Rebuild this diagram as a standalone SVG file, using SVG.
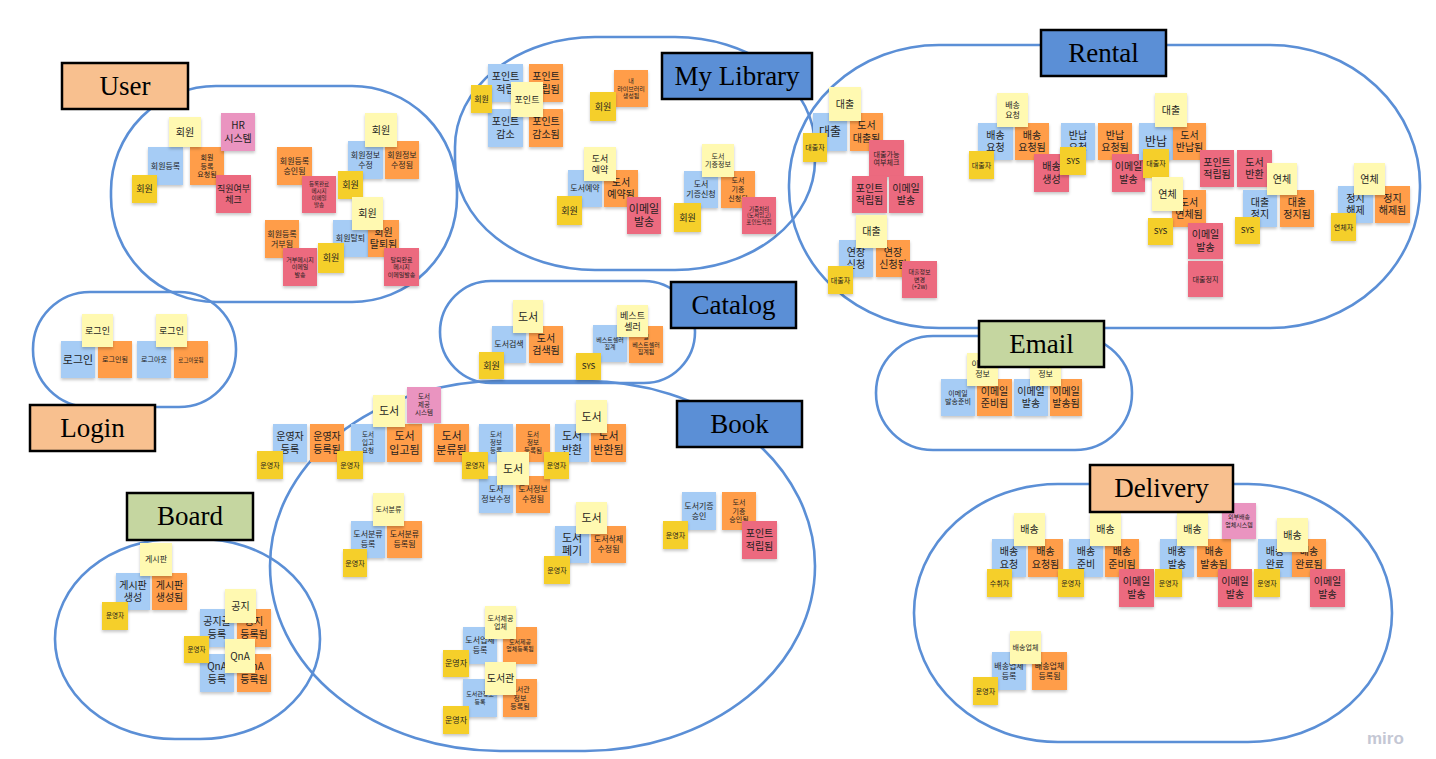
<svg xmlns="http://www.w3.org/2000/svg" width="1436" height="759" viewBox="0 0 1436 759">
<style>
.bg{fill:#ffffff}
.area{fill:none;stroke:#5b8fd6;stroke-width:2.6}
.n{filter:url(#sh)}
.b{fill:#a6ccf5}.o{fill:#ff9d48}.r{fill:#ec6a7f}.y{fill:#f5cf2a}.l{fill:#fff9b1}.p{fill:#ea94c0}
.t{font-family:"Noto Sans CJK KR","Noto Sans",sans-serif;fill:#1e1e1e;text-anchor:middle}
.lb{stroke:#000;stroke-width:2.5}
.lp{fill:#f8c08f}.lbl{fill:#5b8fd6}.lg{fill:#c5d6a0}
.lt{font-family:"Liberation Serif","DejaVu Serif",serif;font-size:27px;fill:#000;text-anchor:middle}
.miro{font-family:"Liberation Sans",sans-serif;font-size:17px;font-weight:bold;fill:#c4c7d4}
</style>
<defs>
<filter id="sh" x="-20%" y="-20%" width="140%" height="150%">
<feDropShadow dx="0" dy="2" stdDeviation="1.4" flood-color="#000" flood-opacity="0.22"/>
</filter>
</defs>
<rect class="bg" x="0" y="0" width="1436" height="759"/>
<g id="areas">
<rect class="area" x="111" y="86" width="346" height="216" rx="105" ry="105"/>
<rect class="area" x="455" y="37" width="360" height="233" rx="140" ry="110"/>
<rect class="area" x="789" y="45" width="631" height="283" rx="150" ry="140"/>
<rect class="area" x="33" y="292" width="203" height="115" rx="57" ry="57"/>
<rect class="area" x="440" y="281" width="255" height="102" rx="51" ry="51"/>
<rect class="area" x="876" y="336" width="256" height="114" rx="57" ry="57"/>
<rect class="area" x="270" y="381" width="545" height="370" rx="230" ry="185"/>
<rect class="area" x="55" y="539" width="265" height="200" rx="120" ry="100"/>
<rect class="area" x="914" y="484" width="478" height="258" rx="144" ry="129"/>
</g>

<g id="user-notes">
<g id="u1"><rect class="n b" x="148" y="147" width="35" height="38"/><text class="t" x="165.5" y="168.9" font-size="8">회원등록</text></g>
<g id="u2"><rect class="n o" x="190" y="147" width="34" height="38"/><text class="t" x="207" y="159.8" font-size="7"><tspan x="207">회원</tspan><tspan x="207" dy="1.25em">등록</tspan><tspan x="207" dy="1.25em">요청됨</tspan></text></g>
<g id="u3"><rect class="n p" x="221" y="113" width="34" height="38"/><text class="t" x="238" y="129.4" font-size="10"><tspan x="238">HR</tspan><tspan x="238" dy="1.25em">시스템</tspan></text></g>
<g id="u4"><rect class="n r" x="216" y="175" width="35" height="38"/><text class="t" x="233.5" y="191.6" font-size="9"><tspan x="233.5">직원여부</tspan><tspan x="233.5" dy="1.25em">체크</tspan></text></g>
<g id="u5"><rect class="n l" x="169" y="117" width="32" height="30"/><text class="t" x="185" y="135.6" font-size="10">회원</text></g>
<g id="u6"><rect class="n y" x="132" y="175" width="25" height="28"/><text class="t" x="144.5" y="192.2" font-size="9">회원</text></g>
<g id="u7"><rect class="n o" x="277" y="147" width="35" height="38"/><text class="t" x="294.5" y="163.9" font-size="8"><tspan x="294.5">회원등록</tspan><tspan x="294.5" dy="1.25em">승인됨</tspan></text></g>
<g id="u8"><rect class="n r" x="302" y="176" width="34" height="37"/><text class="t" x="319" y="186.2" font-size="5.5"><tspan x="319">등록완료</tspan><tspan x="319" dy="1.25em">메시지</tspan><tspan x="319" dy="1.25em">이메일</tspan><tspan x="319" dy="1.25em">발송</tspan></text></g>
<g id="u9"><rect class="n b" x="348" y="141" width="35" height="38"/><text class="t" x="365.5" y="157.9" font-size="8"><tspan x="365.5">회원정보</tspan><tspan x="365.5" dy="1.25em">수정</tspan></text></g>
<g id="u10"><rect class="n o" x="385" y="141" width="34" height="38"/><text class="t" x="402" y="157.9" font-size="8"><tspan x="402">회원정보</tspan><tspan x="402" dy="1.25em">수정됨</tspan></text></g>
<g id="u11"><rect class="n y" x="338" y="171" width="25" height="28"/><text class="t" x="350.5" y="188.2" font-size="9">회원</text></g>
<g id="u12"><rect class="n l" x="365" y="113" width="32" height="34"/><text class="t" x="381" y="133.6" font-size="10">회원</text></g>
<g id="u13"><rect class="n o" x="265" y="220" width="34" height="38"/><text class="t" x="282" y="236.9" font-size="8"><tspan x="282">회원등록</tspan><tspan x="282" dy="1.25em">거부됨</tspan></text></g>
<g id="u14"><rect class="n r" x="283" y="248" width="34" height="38"/><text class="t" x="300" y="261.7" font-size="6"><tspan x="300">거부메시지</tspan><tspan x="300" dy="1.25em">이메일</tspan><tspan x="300" dy="1.25em">발송</tspan></text></g>
<g id="u15"><rect class="n b" x="333" y="220" width="35" height="37"/><text class="t" x="350.5" y="241.4" font-size="8">회원탈퇴</text></g>
<g id="u16"><rect class="n o" x="368" y="220" width="31" height="37"/><text class="t" x="383.5" y="235.9" font-size="10"><tspan x="383.5">회원</tspan><tspan x="383.5" dy="1.25em">탈퇴됨</tspan></text></g>
<g id="u17"><rect class="n l" x="352" y="197" width="31" height="33"/><text class="t" x="367.5" y="217.1" font-size="10">회원</text></g>
<g id="u18"><rect class="n y" x="318" y="243" width="26" height="30"/><text class="t" x="331" y="261.2" font-size="9">회원</text></g>
<g id="u19"><rect class="n r" x="384" y="248" width="35" height="38"/><text class="t" x="401.5" y="261.7" font-size="6"><tspan x="401.5">탈퇴완료</tspan><tspan x="401.5" dy="1.25em">메시지</tspan><tspan x="401.5" dy="1.25em">이메일발송</tspan></text></g>
</g>

<g id="mylibrary-notes">
<g id="m1"><rect class="n b" x="488" y="64" width="35" height="38"/><text class="t" x="505.5" y="80.4" font-size="10"><tspan x="505.5">포인트</tspan><tspan x="505.5" dy="1.25em">적립</tspan></text></g>
<g id="m2"><rect class="n o" x="529" y="64" width="34" height="38"/><text class="t" x="546" y="80.4" font-size="10"><tspan x="546">포인트</tspan><tspan x="546" dy="1.25em">적립됨</tspan></text></g>
<g id="m3"><rect class="n b" x="488" y="109" width="35" height="38"/><text class="t" x="505.5" y="125.4" font-size="10"><tspan x="505.5">포인트</tspan><tspan x="505.5" dy="1.25em">감소</tspan></text></g>
<g id="m4"><rect class="n o" x="529" y="109" width="34" height="38"/><text class="t" x="546" y="125.4" font-size="10"><tspan x="546">포인트</tspan><tspan x="546" dy="1.25em">감소됨</tspan></text></g>
<g id="m5"><rect class="n y" x="471" y="85" width="21" height="28"/><text class="t" x="481.5" y="101.9" font-size="8">회원</text></g>
<g id="m6"><rect class="n l" x="511" y="82" width="32" height="35"/><text class="t" x="527" y="102.7" font-size="9">포인트</text></g>
<g id="m7"><rect class="n o" x="614" y="70" width="34" height="37"/><text class="t" x="631" y="83.2" font-size="6"><tspan x="631">내</tspan><tspan x="631" dy="1.25em">라이브러리</tspan><tspan x="631" dy="1.25em">생성됨</tspan></text></g>
<g id="m8"><rect class="n y" x="590" y="92" width="26" height="29"/><text class="t" x="603" y="109.7" font-size="9">회원</text></g>
<g id="m9"><rect class="n b" x="568" y="170" width="34" height="37"/><text class="t" x="585" y="191.4" font-size="8">도서예약</text></g>
<g id="m10"><rect class="n o" x="604" y="170" width="34" height="37"/><text class="t" x="621" y="185.9" font-size="10"><tspan x="621">도서</tspan><tspan x="621" dy="1.25em">예약됨</tspan></text></g>
<g id="m11"><rect class="n l" x="584" y="147" width="32" height="34"/><text class="t" x="600" y="161.6" font-size="9"><tspan x="600">도서</tspan><tspan x="600" dy="1.25em">예약</tspan></text></g>
<g id="m12"><rect class="n y" x="557" y="196" width="25" height="29"/><text class="t" x="569.5" y="213.7" font-size="9">회원</text></g>
<g id="m13"><rect class="n r" x="627" y="197" width="34" height="37"/><text class="t" x="644" y="212.6" font-size="11"><tspan x="644">이메일</tspan><tspan x="644" dy="1.25em">발송</tspan></text></g>
<g id="m14"><rect class="n b" x="684" y="171" width="34" height="37"/><text class="t" x="701" y="187.4" font-size="8"><tspan x="701">도서</tspan><tspan x="701" dy="1.25em">기증신청</tspan></text></g>
<g id="m15"><rect class="n o" x="721" y="171" width="34" height="37"/><text class="t" x="738" y="183.3" font-size="7"><tspan x="738">도서</tspan><tspan x="738" dy="1.25em">기증</tspan><tspan x="738" dy="1.25em">신청됨</tspan></text></g>
<g id="m16"><rect class="n l" x="702" y="144" width="32" height="33"/><text class="t" x="718" y="158.6" font-size="7"><tspan x="718">도서</tspan><tspan x="718" dy="1.25em">기증정보</tspan></text></g>
<g id="m17"><rect class="n y" x="674" y="203" width="27" height="29"/><text class="t" x="687.5" y="220.7" font-size="9">회원</text></g>
<g id="m18"><rect class="n r" x="742" y="197" width="34" height="37"/><text class="t" x="759" y="210.6" font-size="5.5"><tspan x="759">기증처리</tspan><tspan x="759" dy="1.25em">(도서입고)</tspan><tspan x="759" dy="1.25em">포인트적립</tspan></text></g>
</g>

<g id="rental-notes">
<g id="r1"><rect class="n b" x="813" y="113" width="34" height="38"/><text class="t" x="830" y="136.3" font-size="12">대출</text></g>
<g id="r2"><rect class="n o" x="850" y="113" width="33" height="38"/><text class="t" x="866.5" y="129.4" font-size="10"><tspan x="866.5">도서</tspan><tspan x="866.5" dy="1.25em">대출됨</tspan></text></g>
<g id="r3"><rect class="n l" x="829" y="87" width="32" height="34"/><text class="t" x="845" y="107.6" font-size="10">대출</text></g>
<g id="r4"><rect class="n y" x="803" y="133" width="24" height="29"/><text class="t" x="815" y="150" font-size="7">대출자</text></g>
<g id="r5"><rect class="n r" x="869" y="140" width="35" height="37"/><text class="t" x="886.5" y="156.6" font-size="7"><tspan x="886.5">대출가능</tspan><tspan x="886.5" dy="1.25em">여부체크</tspan></text></g>
<g id="r6"><rect class="n r" x="852" y="176" width="35" height="37"/><text class="t" x="869.5" y="191.9" font-size="10"><tspan x="869.5">포인트</tspan><tspan x="869.5" dy="1.25em">적립됨</tspan></text></g>
<g id="r7"><rect class="n r" x="889" y="176" width="34" height="37"/><text class="t" x="906" y="191.9" font-size="10"><tspan x="906">이메일</tspan><tspan x="906" dy="1.25em">발송</tspan></text></g>
<g id="r8"><rect class="n b" x="839" y="240" width="34" height="37"/><text class="t" x="856" y="255.9" font-size="10"><tspan x="856">연장</tspan><tspan x="856" dy="1.25em">신청</tspan></text></g>
<g id="r9"><rect class="n o" x="876" y="240" width="34" height="37"/><text class="t" x="893" y="255.9" font-size="10"><tspan x="893">연장</tspan><tspan x="893" dy="1.25em">신청됨</tspan></text></g>
<g id="r10"><rect class="n l" x="856" y="215" width="31" height="33"/><text class="t" x="871.5" y="235.1" font-size="10">대출</text></g>
<g id="r11"><rect class="n y" x="828" y="266" width="25" height="28"/><text class="t" x="840.5" y="282.5" font-size="7">대출자</text></g>
<g id="r12"><rect class="n r" x="902" y="261" width="35" height="37"/><text class="t" x="919.5" y="274.2" font-size="6"><tspan x="919.5">대출정보</tspan><tspan x="919.5" dy="1.25em">변경</tspan><tspan x="919.5" dy="1.25em">(+2w)</tspan></text></g>
<g id="r13"><rect class="n b" x="978" y="123" width="35" height="37"/><text class="t" x="995.5" y="138.9" font-size="10"><tspan x="995.5">배송</tspan><tspan x="995.5" dy="1.25em">요청</tspan></text></g>
<g id="r14"><rect class="n o" x="1015" y="123" width="34" height="37"/><text class="t" x="1032" y="138.9" font-size="10"><tspan x="1032">배송</tspan><tspan x="1032" dy="1.25em">요청됨</tspan></text></g>
<g id="r15"><rect class="n l" x="997" y="93" width="31" height="34"/><text class="t" x="1012.5" y="107.9" font-size="8"><tspan x="1012.5">배송</tspan><tspan x="1012.5" dy="1.25em">요청</tspan></text></g>
<g id="r16"><rect class="n y" x="969" y="151" width="25" height="28"/><text class="t" x="981.5" y="167.5" font-size="7">대출자</text></g>
<g id="r17"><rect class="n r" x="1034" y="154" width="35" height="38"/><text class="t" x="1051.5" y="170.4" font-size="10"><tspan x="1051.5">배송</tspan><tspan x="1051.5" dy="1.25em">생성</tspan></text></g>
<g id="r18"><rect class="n b" x="1061" y="123" width="34" height="37"/><text class="t" x="1078" y="138.9" font-size="10"><tspan x="1078">반납</tspan><tspan x="1078" dy="1.25em">요청</tspan></text></g>
<g id="r19"><rect class="n y" x="1060" y="147" width="26" height="28"/><text class="t" x="1073" y="163.9" font-size="8">SYS</text></g>
<g id="r20"><rect class="n o" x="1098" y="123" width="34" height="37"/><text class="t" x="1115" y="138.9" font-size="10"><tspan x="1115">반납</tspan><tspan x="1115" dy="1.25em">요청됨</tspan></text></g>
<g id="r21"><rect class="n r" x="1112" y="154" width="33" height="38"/><text class="t" x="1128.5" y="170.4" font-size="10"><tspan x="1128.5">이메일</tspan><tspan x="1128.5" dy="1.25em">발송</tspan></text></g>
<g id="r22"><rect class="n b" x="1139" y="123" width="34" height="37"/><text class="t" x="1156" y="145.8" font-size="12">반납</text></g>
<g id="r23"><rect class="n o" x="1173" y="123" width="33" height="37"/><text class="t" x="1189.5" y="138.9" font-size="10"><tspan x="1189.5">도서</tspan><tspan x="1189.5" dy="1.25em">반납됨</tspan></text></g>
<g id="r24"><rect class="n l" x="1155" y="93" width="32" height="34"/><text class="t" x="1171" y="113.6" font-size="10">대출</text></g>
<g id="r25"><rect class="n y" x="1143" y="149" width="26" height="29"/><text class="t" x="1156" y="166" font-size="7">대출자</text></g>
<g id="r26"><rect class="n r" x="1200" y="150" width="34" height="37"/><text class="t" x="1217" y="165.9" font-size="10"><tspan x="1217">포인트</tspan><tspan x="1217" dy="1.25em">적립됨</tspan></text></g>
<g id="r27"><rect class="n r" x="1237" y="150" width="35" height="37"/><text class="t" x="1254.5" y="165.9" font-size="10"><tspan x="1254.5">도서</tspan><tspan x="1254.5" dy="1.25em">반환</tspan></text></g>
<g id="r28"><rect class="n o" x="1172" y="190" width="34" height="37"/><text class="t" x="1189" y="205.9" font-size="10"><tspan x="1189">도서</tspan><tspan x="1189" dy="1.25em">연체됨</tspan></text></g>
<g id="r29"><rect class="n l" x="1152" y="177" width="31" height="34"/><text class="t" x="1167.5" y="197.6" font-size="10">연체</text></g>
<g id="r30"><rect class="n y" x="1148" y="218" width="25" height="27"/><text class="t" x="1160.5" y="234.4" font-size="8">SYS</text></g>
<g id="r31"><rect class="n r" x="1188" y="223" width="35" height="36"/><text class="t" x="1205.5" y="238.4" font-size="10"><tspan x="1205.5">이메일</tspan><tspan x="1205.5" dy="1.25em">발송</tspan></text></g>
<g id="r32"><rect class="n r" x="1188" y="261" width="35" height="36"/><text class="t" x="1205.5" y="281.5" font-size="7">대출정지</text></g>
<g id="r33"><rect class="n b" x="1243" y="190" width="34" height="37"/><text class="t" x="1260" y="205.9" font-size="10"><tspan x="1260">대출</tspan><tspan x="1260" dy="1.25em">정지</tspan></text></g>
<g id="r34"><rect class="n o" x="1280" y="190" width="34" height="37"/><text class="t" x="1297" y="205.9" font-size="10"><tspan x="1297">대출</tspan><tspan x="1297" dy="1.25em">정지됨</tspan></text></g>
<g id="r35"><rect class="n l" x="1267" y="163" width="30" height="32"/><text class="t" x="1282" y="182.6" font-size="10">연체</text></g>
<g id="r36"><rect class="n y" x="1235" y="217" width="25" height="27"/><text class="t" x="1247.5" y="233.4" font-size="8">SYS</text></g>
<g id="r37"><rect class="n b" x="1338" y="186" width="35" height="37"/><text class="t" x="1355.5" y="201.9" font-size="10"><tspan x="1355.5">정지</tspan><tspan x="1355.5" dy="1.25em">해제</tspan></text></g>
<g id="r38"><rect class="n o" x="1375" y="186" width="35" height="37"/><text class="t" x="1392.5" y="201.9" font-size="10"><tspan x="1392.5">정지</tspan><tspan x="1392.5" dy="1.25em">해제됨</tspan></text></g>
<g id="r39"><rect class="n l" x="1354" y="163" width="31" height="32"/><text class="t" x="1369.5" y="182.6" font-size="10">연체</text></g>
<g id="r40"><rect class="n y" x="1331" y="213" width="25" height="28"/><text class="t" x="1343.5" y="229.5" font-size="7">연체자</text></g>
</g>

<g id="login-notes">
<g id="lg1"><rect class="n b" x="61" y="341" width="34" height="37"/><text class="t" x="78" y="363.5" font-size="11">로그인</text></g>
<g id="lg2"><rect class="n o" x="98" y="341" width="34" height="37"/><text class="t" x="115" y="362" font-size="7">로그인됨</text></g>
<g id="lg3"><rect class="n l" x="82" y="314" width="31" height="33"/><text class="t" x="97.5" y="333.7" font-size="9">로그인</text></g>
<g id="lg4"><rect class="n b" x="137" y="341" width="34" height="37"/><text class="t" x="154" y="362" font-size="7">로그아웃</text></g>
<g id="lg5"><rect class="n o" x="174" y="341" width="34" height="37"/><text class="t" x="191" y="361.5" font-size="5.5">로그아웃됨</text></g>
<g id="lg6"><rect class="n l" x="156" y="314" width="31" height="33"/><text class="t" x="171.5" y="333.7" font-size="9">로그인</text></g>
</g>

<g id="catalog-notes">
<g id="c1"><rect class="n b" x="492" y="326" width="34" height="37"/><text class="t" x="509" y="347.4" font-size="8">도서검색</text></g>
<g id="c2"><rect class="n o" x="529" y="326" width="34" height="37"/><text class="t" x="546" y="341.9" font-size="10"><tspan x="546">도서</tspan><tspan x="546" dy="1.25em">검색됨</tspan></text></g>
<g id="c3"><rect class="n l" x="513" y="300" width="30" height="33"/><text class="t" x="528" y="320.5" font-size="11">도서</text></g>
<g id="c4"><rect class="n y" x="479" y="352" width="25" height="27"/><text class="t" x="491.5" y="368.7" font-size="9">회원</text></g>
<g id="c5"><rect class="n b" x="593" y="325" width="34" height="37"/><text class="t" x="610" y="341.9" font-size="6"><tspan x="610">베스트셀러</tspan><tspan x="610" dy="1.25em">집계</tspan></text></g>
<g id="c6"><rect class="n o" x="629" y="326" width="34" height="37"/><text class="t" x="646" y="339.2" font-size="6"><tspan x="646">월</tspan><tspan x="646" dy="1.25em">베스트셀러</tspan><tspan x="646" dy="1.25em">집계됨</tspan></text></g>
<g id="c7"><rect class="n l" x="617" y="305" width="31" height="32"/><text class="t" x="632.5" y="318.6" font-size="9"><tspan x="632.5">베스트</tspan><tspan x="632.5" dy="1.25em">셀러</tspan></text></g>
<g id="c8"><rect class="n y" x="576" y="353" width="25" height="27"/><text class="t" x="588.5" y="369.4" font-size="8">SYS</text></g>
</g>

<g id="email-notes">
<g id="e1"><rect class="n b" x="941" y="379" width="34" height="37"/><text class="t" x="958" y="395.6" font-size="7"><tspan x="958">이메일</tspan><tspan x="958" dy="1.25em">발송준비</tspan></text></g>
<g id="e2"><rect class="n o" x="977" y="379" width="35" height="37"/><text class="t" x="994.5" y="394.9" font-size="10"><tspan x="994.5">이메일</tspan><tspan x="994.5" dy="1.25em">준비됨</tspan></text></g>
<g id="e3"><rect class="n l" x="967" y="353" width="31" height="33"/><text class="t" x="982.5" y="367.4" font-size="8"><tspan x="982.5">이메일</tspan><tspan x="982.5" dy="1.25em">정보</tspan></text></g>
<g id="e4"><rect class="n b" x="1014" y="379" width="34" height="37"/><text class="t" x="1031" y="394.9" font-size="10"><tspan x="1031">이메일</tspan><tspan x="1031" dy="1.25em">발송</tspan></text></g>
<g id="e5"><rect class="n o" x="1050" y="379" width="32" height="37"/><text class="t" x="1066" y="394.9" font-size="10"><tspan x="1066">이메일</tspan><tspan x="1066" dy="1.25em">발송됨</tspan></text></g>
<g id="e6"><rect class="n l" x="1030" y="353" width="31" height="33"/><text class="t" x="1045.5" y="367.4" font-size="8"><tspan x="1045.5">이메일</tspan><tspan x="1045.5" dy="1.25em">정보</tspan></text></g>
</g>

<g id="book-notes">
<g id="k1"><rect class="n b" x="273" y="424" width="34" height="38"/><text class="t" x="290" y="440.4" font-size="10"><tspan x="290">운영자</tspan><tspan x="290" dy="1.25em">등록</tspan></text></g>
<g id="k2"><rect class="n o" x="310" y="424" width="34" height="38"/><text class="t" x="327" y="440.4" font-size="10"><tspan x="327">운영자</tspan><tspan x="327" dy="1.25em">등록됨</tspan></text></g>
<g id="k3"><rect class="n y" x="257" y="451" width="26" height="28"/><text class="t" x="270" y="467.5" font-size="7">운영자</text></g>
<g id="k4"><rect class="n b" x="351" y="424" width="34" height="38"/><text class="t" x="368" y="437.2" font-size="6.5"><tspan x="368">도서</tspan><tspan x="368" dy="1.25em">입고</tspan><tspan x="368" dy="1.25em">요청</tspan></text></g>
<g id="k5"><rect class="n o" x="387" y="424" width="35" height="38"/><text class="t" x="404.5" y="440.1" font-size="11"><tspan x="404.5">도서</tspan><tspan x="404.5" dy="1.25em">입고됨</tspan></text></g>
<g id="k6"><rect class="n l" x="373" y="395" width="32" height="32"/><text class="t" x="389" y="415" font-size="11">도서</text></g>
<g id="k7"><rect class="n p" x="407" y="387" width="34" height="36"/><text class="t" x="424" y="399.2" font-size="6.5"><tspan x="424">도서</tspan><tspan x="424" dy="1.25em">제공</tspan><tspan x="424" dy="1.25em">시스템</tspan></text></g>
<g id="k8"><rect class="n y" x="337" y="451" width="26" height="28"/><text class="t" x="350" y="467.5" font-size="7">운영자</text></g>
<g id="k9"><rect class="n o" x="434" y="424" width="35" height="38"/><text class="t" x="451.5" y="440.1" font-size="11"><tspan x="451.5">도서</tspan><tspan x="451.5" dy="1.25em">분류됨</tspan></text></g>
<g id="k10"><rect class="n b" x="479" y="424" width="34" height="38"/><text class="t" x="496" y="437.2" font-size="6.5"><tspan x="496">도서</tspan><tspan x="496" dy="1.25em">정보</tspan><tspan x="496" dy="1.25em">등록</tspan></text></g>
<g id="k11"><rect class="n o" x="516" y="424" width="34" height="38"/><text class="t" x="533" y="437.2" font-size="6.5"><tspan x="533">도서</tspan><tspan x="533" dy="1.25em">정보</tspan><tspan x="533" dy="1.25em">등록됨</tspan></text></g>
<g id="k12"><rect class="n b" x="479" y="476" width="34" height="37"/><text class="t" x="496" y="492.4" font-size="8"><tspan x="496">도서</tspan><tspan x="496" dy="1.25em">정보수정</tspan></text></g>
<g id="k13"><rect class="n o" x="516" y="476" width="34" height="37"/><text class="t" x="533" y="492.4" font-size="8"><tspan x="533">도서정보</tspan><tspan x="533" dy="1.25em">수정됨</tspan></text></g>
<g id="k14"><rect class="n y" x="462" y="452" width="26" height="27"/><text class="t" x="475" y="468" font-size="7">운영자</text></g>
<g id="k15"><rect class="n l" x="497" y="452" width="32" height="33"/><text class="t" x="513" y="472.5" font-size="11">도서</text></g>
<g id="k16"><rect class="n b" x="555" y="424" width="34" height="38"/><text class="t" x="572" y="440.1" font-size="11"><tspan x="572">도서</tspan><tspan x="572" dy="1.25em">반환</tspan></text></g>
<g id="k17"><rect class="n o" x="591" y="424" width="35" height="38"/><text class="t" x="608.5" y="440.1" font-size="11"><tspan x="608.5">도서</tspan><tspan x="608.5" dy="1.25em">반환됨</tspan></text></g>
<g id="k18"><rect class="n l" x="576" y="400" width="31" height="33"/><text class="t" x="591.5" y="420.5" font-size="11">도서</text></g>
<g id="k19"><rect class="n y" x="544" y="452" width="25" height="27"/><text class="t" x="556.5" y="468" font-size="7">운영자</text></g>
<g id="k20"><rect class="n b" x="351" y="521" width="34" height="37"/><text class="t" x="368" y="537.4" font-size="8"><tspan x="368">도서분류</tspan><tspan x="368" dy="1.25em">등록</tspan></text></g>
<g id="k21"><rect class="n o" x="387" y="521" width="35" height="37"/><text class="t" x="404.5" y="537.4" font-size="8"><tspan x="404.5">도서분류</tspan><tspan x="404.5" dy="1.25em">등록됨</tspan></text></g>
<g id="k22"><rect class="n l" x="373" y="493" width="31" height="33"/><text class="t" x="388.5" y="512" font-size="7">도서분류</text></g>
<g id="k23"><rect class="n y" x="343" y="549" width="24" height="28"/><text class="t" x="355" y="565.5" font-size="7">운영자</text></g>
<g id="k24"><rect class="n b" x="555" y="526" width="34" height="37"/><text class="t" x="572" y="541.6" font-size="11"><tspan x="572">도서</tspan><tspan x="572" dy="1.25em">폐기</tspan></text></g>
<g id="k25"><rect class="n o" x="591" y="526" width="35" height="37"/><text class="t" x="608.5" y="542.4" font-size="8"><tspan x="608.5">도서삭제</tspan><tspan x="608.5" dy="1.25em">수정됨</tspan></text></g>
<g id="k26"><rect class="n l" x="576" y="502" width="31" height="32"/><text class="t" x="591.5" y="522" font-size="11">도서</text></g>
<g id="k27"><rect class="n y" x="544" y="556" width="26" height="28"/><text class="t" x="557" y="572.5" font-size="7">운영자</text></g>
<g id="k28"><rect class="n b" x="682" y="492" width="34" height="38"/><text class="t" x="699" y="508.9" font-size="8"><tspan x="699">도서기증</tspan><tspan x="699" dy="1.25em">승인</tspan></text></g>
<g id="k29"><rect class="n o" x="722" y="492" width="34" height="38"/><text class="t" x="739" y="504.8" font-size="7"><tspan x="739">도서</tspan><tspan x="739" dy="1.25em">기증</tspan><tspan x="739" dy="1.25em">승인됨</tspan></text></g>
<g id="k30"><rect class="n y" x="663" y="521" width="25" height="28"/><text class="t" x="675.5" y="537.5" font-size="7">운영자</text></g>
<g id="k31"><rect class="n r" x="742" y="521" width="35" height="38"/><text class="t" x="759.5" y="537.4" font-size="10"><tspan x="759.5">포인트</tspan><tspan x="759.5" dy="1.25em">적립됨</tspan></text></g>
<g id="k32"><rect class="n b" x="463" y="627" width="34" height="37"/><text class="t" x="480" y="643.4" font-size="8"><tspan x="480">도서업체</tspan><tspan x="480" dy="1.25em">등록</tspan></text></g>
<g id="k33"><rect class="n o" x="503" y="627" width="34" height="37"/><text class="t" x="520" y="643.9" font-size="6"><tspan x="520">도서제공</tspan><tspan x="520" dy="1.25em">업체등록됨</tspan></text></g>
<g id="k34"><rect class="n l" x="485" y="606" width="31" height="33"/><text class="t" x="500.5" y="620.6" font-size="7"><tspan x="500.5">도서제공</tspan><tspan x="500.5" dy="1.25em">업체</tspan></text></g>
<g id="k35"><rect class="n y" x="443" y="650" width="26" height="27"/><text class="t" x="456" y="666.4" font-size="8">운영자</text></g>
<g id="k36"><rect class="n b" x="463" y="679" width="34" height="38"/><text class="t" x="480" y="696.4" font-size="6"><tspan x="480">도서관정보</tspan><tspan x="480" dy="1.25em">등록</tspan></text></g>
<g id="k37"><rect class="n o" x="503" y="679" width="34" height="38"/><text class="t" x="520" y="691.8" font-size="7"><tspan x="520">도서관</tspan><tspan x="520" dy="1.25em">정보</tspan><tspan x="520" dy="1.25em">등록됨</tspan></text></g>
<g id="k38"><rect class="n l" x="485" y="662" width="31" height="33"/><text class="t" x="500.5" y="682.1" font-size="10">도서관</text></g>
<g id="k39"><rect class="n y" x="443" y="706" width="26" height="28"/><text class="t" x="456" y="722.9" font-size="8">운영자</text></g>
</g>

<g id="board-notes">
<g id="bd1"><rect class="n b" x="116" y="573" width="34" height="37"/><text class="t" x="133" y="588.9" font-size="10"><tspan x="133">게시판</tspan><tspan x="133" dy="1.25em">생성</tspan></text></g>
<g id="bd2"><rect class="n o" x="152" y="573" width="35" height="37"/><text class="t" x="169.5" y="588.9" font-size="10"><tspan x="169.5">게시판</tspan><tspan x="169.5" dy="1.25em">생성됨</tspan></text></g>
<g id="bd3"><rect class="n l" x="140" y="543" width="32" height="33"/><text class="t" x="156" y="562.4" font-size="8">게시판</text></g>
<g id="bd4"><rect class="n y" x="102" y="602" width="26" height="28"/><text class="t" x="115" y="618.3" font-size="6.5">운영자</text></g>
<g id="bd5"><rect class="n b" x="200" y="609" width="34" height="38"/><text class="t" x="217" y="625.4" font-size="10"><tspan x="217">공지글</tspan><tspan x="217" dy="1.25em">등록</tspan></text></g>
<g id="bd6"><rect class="n o" x="237" y="609" width="34" height="38"/><text class="t" x="254" y="625.4" font-size="10"><tspan x="254">공지</tspan><tspan x="254" dy="1.25em">등록됨</tspan></text></g>
<g id="bd7"><rect class="n b" x="200" y="654" width="34" height="38"/><text class="t" x="217" y="670.4" font-size="10"><tspan x="217">QnA</tspan><tspan x="217" dy="1.25em">등록</tspan></text></g>
<g id="bd8"><rect class="n o" x="237" y="654" width="34" height="38"/><text class="t" x="254" y="670.4" font-size="10"><tspan x="254">QnA</tspan><tspan x="254" dy="1.25em">등록됨</tspan></text></g>
<g id="bd9"><rect class="n l" x="225" y="589" width="31" height="34"/><text class="t" x="240.5" y="609.6" font-size="10">공지</text></g>
<g id="bd10"><rect class="n y" x="184" y="636" width="25" height="27"/><text class="t" x="196.5" y="651.8" font-size="6.5">운영자</text></g>
<g id="bd11"><rect class="n l" x="225" y="639" width="30" height="34"/><text class="t" x="240" y="659.6" font-size="10">QnA</text></g>
</g>

<g id="delivery-notes">
<g id="d1"><rect class="n b" x="992" y="539" width="34" height="38"/><text class="t" x="1009" y="555.4" font-size="10"><tspan x="1009">배송</tspan><tspan x="1009" dy="1.25em">요청</tspan></text></g>
<g id="d2"><rect class="n o" x="1028" y="539" width="35" height="38"/><text class="t" x="1045.5" y="555.4" font-size="10"><tspan x="1045.5">배송</tspan><tspan x="1045.5" dy="1.25em">요청됨</tspan></text></g>
<g id="d3"><rect class="n l" x="1014" y="513" width="31" height="33"/><text class="t" x="1029.5" y="533.1" font-size="10">배송</text></g>
<g id="d4"><rect class="n y" x="987" y="569" width="25" height="28"/><text class="t" x="999.5" y="585.5" font-size="7">수취자</text></g>
<g id="d5"><rect class="n b" x="1069" y="539" width="34" height="38"/><text class="t" x="1086" y="555.4" font-size="10"><tspan x="1086">배송</tspan><tspan x="1086" dy="1.25em">준비</tspan></text></g>
<g id="d6"><rect class="n o" x="1105" y="539" width="34" height="38"/><text class="t" x="1122" y="555.4" font-size="10"><tspan x="1122">배송</tspan><tspan x="1122" dy="1.25em">준비됨</tspan></text></g>
<g id="d7"><rect class="n l" x="1090" y="513" width="31" height="33"/><text class="t" x="1105.5" y="533.1" font-size="10">배송</text></g>
<g id="d8"><rect class="n y" x="1058" y="569" width="26" height="28"/><text class="t" x="1071" y="585.5" font-size="7">운영자</text></g>
<g id="d9"><rect class="n r" x="1119" y="569" width="35" height="38"/><text class="t" x="1136.5" y="585.4" font-size="10"><tspan x="1136.5">이메일</tspan><tspan x="1136.5" dy="1.25em">발송</tspan></text></g>
<g id="d10"><rect class="n b" x="1160" y="539" width="34" height="38"/><text class="t" x="1177" y="555.4" font-size="10"><tspan x="1177">배송</tspan><tspan x="1177" dy="1.25em">발송</tspan></text></g>
<g id="d11"><rect class="n o" x="1197" y="539" width="34" height="38"/><text class="t" x="1214" y="555.4" font-size="10"><tspan x="1214">배송</tspan><tspan x="1214" dy="1.25em">발송됨</tspan></text></g>
<g id="d12"><rect class="n l" x="1177" y="513" width="31" height="33"/><text class="t" x="1192.5" y="533.1" font-size="10">배송</text></g>
<g id="d13"><rect class="n p" x="1222" y="503" width="34" height="36"/><text class="t" x="1239" y="519.4" font-size="6"><tspan x="1239">외부배송</tspan><tspan x="1239" dy="1.25em">업체시스템</tspan></text></g>
<g id="d14"><rect class="n y" x="1155" y="569" width="27" height="28"/><text class="t" x="1168.5" y="585.5" font-size="7">운영자</text></g>
<g id="d15"><rect class="n r" x="1218" y="569" width="34" height="38"/><text class="t" x="1235" y="585.4" font-size="10"><tspan x="1235">이메일</tspan><tspan x="1235" dy="1.25em">발송</tspan></text></g>
<g id="d16"><rect class="n b" x="1258" y="539" width="34" height="38"/><text class="t" x="1275" y="555.4" font-size="10"><tspan x="1275">배송</tspan><tspan x="1275" dy="1.25em">완료</tspan></text></g>
<g id="d17"><rect class="n o" x="1292" y="539" width="34" height="38"/><text class="t" x="1309" y="555.4" font-size="10"><tspan x="1309">배송</tspan><tspan x="1309" dy="1.25em">완료됨</tspan></text></g>
<g id="d18"><rect class="n l" x="1277" y="518" width="31" height="34"/><text class="t" x="1292.5" y="538.6" font-size="10">배송</text></g>
<g id="d19"><rect class="n y" x="1254" y="569" width="26" height="28"/><text class="t" x="1267" y="585.5" font-size="7">운영자</text></g>
<g id="d20"><rect class="n r" x="1310" y="569" width="35" height="38"/><text class="t" x="1327.5" y="585.4" font-size="10"><tspan x="1327.5">이메일</tspan><tspan x="1327.5" dy="1.25em">발송</tspan></text></g>
<g id="d21"><rect class="n b" x="992" y="652" width="34" height="38"/><text class="t" x="1009" y="668.9" font-size="8"><tspan x="1009">배송업체</tspan><tspan x="1009" dy="1.25em">등록</tspan></text></g>
<g id="d22"><rect class="n o" x="1032" y="652" width="35" height="38"/><text class="t" x="1049.5" y="668.9" font-size="8"><tspan x="1049.5">배송업체</tspan><tspan x="1049.5" dy="1.25em">등록됨</tspan></text></g>
<g id="d23"><rect class="n l" x="1010" y="631" width="31" height="33"/><text class="t" x="1025.5" y="650" font-size="7">배송업체</text></g>
<g id="d24"><rect class="n y" x="973" y="677" width="25" height="28"/><text class="t" x="985.5" y="693.5" font-size="7">운영자</text></g>
</g>

<g id="labels">
<g id="label-user"><rect class="lb lp" x="62" y="63" width="126" height="46"/><text class="lt" x="125" y="95">User</text></g>
<g id="label-mylibrary"><rect class="lb lbl" x="662" y="53" width="150" height="46"/><text class="lt" x="737" y="85">My Library</text></g>
<g id="label-rental"><rect class="lb lbl" x="1041" y="30" width="125" height="46"/><text class="lt" x="1103.5" y="62">Rental</text></g>
<g id="label-login"><rect class="lb lp" x="30" y="405" width="125" height="46"/><text class="lt" x="92.5" y="437">Login</text></g>
<g id="label-catalog"><rect class="lb lbl" x="671" y="282" width="125" height="46"/><text class="lt" x="733.5" y="314">Catalog</text></g>
<g id="label-email"><rect class="lb lg" x="979" y="321" width="125" height="46"/><text class="lt" x="1041.5" y="353">Email</text></g>
<g id="label-book"><rect class="lb lbl" x="677" y="401" width="125" height="46"/><text class="lt" x="739.5" y="433">Book</text></g>
<g id="label-board"><rect class="lb lg" x="127" y="493" width="126" height="47"/><text class="lt" x="190" y="525">Board</text></g>
<g id="label-delivery"><rect class="lb lp" x="1090" y="465" width="143" height="47"/><text class="lt" x="1161.5" y="497">Delivery</text></g>
</g>
<text class="miro" x="1367" y="744">miro</text>
</svg>
